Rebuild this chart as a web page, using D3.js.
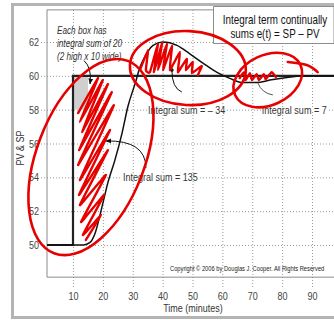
<!DOCTYPE html>
<html>
<head>
<meta charset="utf-8">
<script src="https://cdn.jsdelivr.net/npm/d3@7"></script>
<style>
  body { margin: 0; background: #fff; }
  svg { display: block; font-family: "Liberation Sans", Arial, sans-serif; }
</style>
</head>
<body>
<script>
// data
const xTicks = [10, 20, 30, 40, 50, 60, 70, 80, 90];
const yTicks = [50, 52, 54, 56, 58, 60, 62];

// set point: step from 50 to 60 at t = 10
const spTime = [1.3, 10, 10, 102];
const spValue = [50, 50, 60, 60];

// measured process variable
const pvTime = [1.3, 13.5, 15.7, 17.4, 19.7, 21.7, 24.0, 26.4, 28.4, 30.9, 32.4, 33.4, 36.8, 40.1, 44.8, 49.1, 53.5, 58.2, 62.5, 66.9, 71.5, 75.9, 81.6, 87, 95, 102];
const pvValue = [50, 50, 50.15, 50.7, 52.25, 53.7, 55.0, 56.6, 58.2, 59.6, 60.5, 60.9, 61.8, 62.0, 61.8, 61.3, 60.75, 60.2, 59.85, 59.6, 59.6, 59.75, 59.9, 60.0, 60.0, 60.0];

// grey "one box" (10 wide x 2 high, partly covered)
const boxTime = [10, 15];
const boxValue = [58, 60];

// text labels
const sumLabels = ["Integral sum = 135", "Integral sum =  \u2013 34", "Integral sum = 7"];
const sumTime = [26.7, 35.1, 73.2];
const sumValue = [54, 58, 58];

// hand drawn red marks, as [time, value]
const hatchA = [[11.7,57.8],[18.4,59.87],[12.3,57.27],[20.0,59.75],[13.0,56.68],[21.7,59.51],[12.0,55.61],[23.0,59.04],[11.7,54.73],[23.7,58.27],[12.3,53.84],[22.4,56.8],[12.0,52.96],[21.7,55.61],[12.3,52.36],[21.0,54.14],[12.7,51.36],[20.4,52.96],[13.3,50.59],[19.4,51.77],[14.3,50.3]];
const hatchB = [[32.4,60.34],[35.1,61.52],[34.4,60.34],[35.75,60.22],[38.4,61.88],[37.1,60.22],[39.8,61.94],[38.4,60.34],[41.4,61.88],[40.1,60.34],[43.1,61.76],[42.4,60.34],[45.8,61.41],[45.1,60.22],[48.1,61.0],[47.8,60.34],[50.1,60.82],[49.8,60.16],[53.1,60.58],[51.8,60.05]];
const hatchC = [[65.8,59.87],[67.2,60.22],[67.85,59.75],[69.2,60.16],[69.9,59.75],[71.5,60.1],[72.2,59.75],[73.9,60.1],[74.5,59.81],[76.5,60.22],[77.9,59.93]];
const circleCenters = [[16.0, 55.2], [48.45, 60.46], [75.2, 59.75]];
const tailMark = [[81.9,60.82],[88.25,60.64],[91.9,60.22]];

// black pointer arrows: start, control, end
const arrows = [
  [[13.7,60.9],[16.4,60.46],[15.7,59.52]],
  [[34.4,54.55],[34.4,56.2],[21.0,56.15]],
  [[46.45,59.04],[43.1,59.28],[43.1,60.34]],
  [[71.9,59.57],[73.2,58.98],[76.9,58.87]]
];

const width = 334, height = 320;

const x = d3.scaleLinear().domain([10, 90]).range([73, 312]);
const y = d3.scaleLinear().domain([50, 62]).range([245, 42]);

const plotLeft = x(1.3), plotTop = y(63.9), plotBottom = y(48.1);

// the original uses a narrow face; squeeze the regular one sideways round its anchor
const squeeze = 0.82;
function narrow(node, ax) {
  const old = node.getAttribute('transform') || '';
  if (old.includes('rotate')) {
    node.setAttribute('transform', `${old} scale(${squeeze},1)`);
  } else {
    node.setAttribute('transform', `${old} translate(${ax},0) scale(${squeeze},1) translate(${-ax},0)`);
  }
}

const svg = d3.select('body').append('svg')
  .attr('width', width)
  .attr('height', height);

// outer frame (its right side is off the picture)
svg.append('path')
  .attr('d', `M${width},4.5 H12.5 V317.5 H${width}`)
  .attr('fill', 'none')
  .attr('stroke', '#b4b4b4')
  .attr('stroke-width', 3);

const defs = svg.append('defs');
defs.append('clipPath').attr('id', 'plot')
  .append('rect')
  .attr('x', plotLeft).attr('y', plotTop)
  .attr('width', width - plotLeft).attr('height', plotBottom - plotTop);

defs.append('marker')
  .attr('id', 'head')
  .attr('viewBox', '0 0 10 10')
  .attr('refX', 9).attr('refY', 5)
  .attr('markerWidth', 6).attr('markerHeight', 6)
  .attr('orient', 'auto')
  .append('path')
  .attr('d', 'M0,1 L10,5 L0,9 z')
  .attr('fill', '#111');

//y axis with grid
const yAxis = svg.append('g')
  .attr('transform', `translate(41,0)`)
  .call(d3.axisLeft(y).tickValues(yTicks).tickSize(-(width - 41)).tickPadding(2));
yAxis.select('.domain').remove();
yAxis.selectAll('line').attr('stroke', '#9a9a9a').attr('stroke-dasharray', '1,2');
yAxis.selectAll('text').attr('fill', '#444').attr('font-size', 11)
  .each(function () { narrow(this, -2); });

//x axis with grid
const xAxis = svg.append('g')
  .attr('transform', `translate(0,287)`)
  .call(d3.axisBottom(x).tickValues(xTicks).tickSize(-(287 - plotTop)).tickPadding(5));
xAxis.select('.domain').remove();
xAxis.selectAll('line').attr('stroke', '#9a9a9a').attr('stroke-dasharray', '1,2');
xAxis.selectAll('text').attr('fill', '#444').attr('font-size', 11)
  .each(function () { narrow(this, 0); });

// plot border, open at the right where the picture is cut
svg.append('path')
  .attr('d', `M${width},${plotTop} H${plotLeft} V${plotBottom} H${width}`)
  .attr('fill', 'none')
  .attr('stroke', '#8c8c8c');

const plot = svg.append('g').attr('clip-path', 'url(#plot)');

plot.append('rect')
  .attr('x', x(boxTime[0]))
  .attr('y', y(boxValue[1]))
  .attr('width', x(boxTime[1]) - x(boxTime[0]))
  .attr('height', y(boxValue[0]) - y(boxValue[1]))
  .attr('fill', '#cfcfcf');

const line = d3.line().x(d => x(d[0])).y(d => y(d[1]));

plot.append('path')
  .datum(spTime.map((t, i) => [t, spValue[i]]))
  .attr('d', line)
  .attr('fill', 'none')
  .attr('stroke', '#222')
  .attr('stroke-width', 2.2);

plot.append('path')
  .datum(pvTime.map((t, i) => [t, pvValue[i]]))
  .attr('d', line.curve(d3.curveMonotoneX))
  .attr('fill', 'none')
  .attr('stroke', '#111')
  .attr('stroke-width', 1.5);

// text annotations with white backing
sumLabels.forEach((label, i) => {
  const g = svg.append('g');
  const t = g.append('text')
    .attr('x', x(sumTime[i]))
    .attr('y', y(sumValue[i]))
    .attr('dy', '0.35em')
    .attr('font-size', 11)
    .attr('fill', '#333')
    .text(label);
  const b = t.node().getBBox();
  g.insert('rect', 'text')
    .attr('x', b.x - 1).attr('y', y(sumValue[i]) - 2)
    .attr('width', b.width + 2).attr('height', 4)
    .attr('fill', '#fff');
  narrow(g.node(), x(sumTime[i]));
});

const note = svg.append('text')
  .attr('font-size', 10)
  .attr('font-style', 'italic')
  .attr('fill', '#333');
['Each box has', 'integral sum of 20', '(2 high x 10 wide)'].forEach((s, i) => {
  note.append('tspan').attr('x', 57).attr('y', 34 + i * 13).text(s);
});
narrow(note.node(), 57);

// arrows
const quad = d => `M${x(d[0][0])},${y(d[0][1])} Q${x(d[1][0])},${y(d[1][1])} ${x(d[2][0])},${y(d[2][1])}`;
svg.append('g')
  .selectAll('path')
  .data(arrows)
  .join('path')
  .attr('d', quad)
  .attr('fill', 'none')
  .attr('stroke', (d, i) => i === 3 ? '#555' : '#111')
  .attr('stroke-width', 1)
  .attr('marker-end', (d, i) => i < 2 ? 'url(#head)' : null);
svg.append('circle')
  .attr('cx', x(arrows[2][2][0])).attr('cy', y(arrows[2][2][1]))
  .attr('r', 1.8).attr('fill', '#111');

// title box, also running off the right edge
svg.append('path')
  .attr('d', `M${width},6.5 H213.5 V43.5 H${width} Z`)
  .attr('fill', '#fff')
  .attr('stroke', '#8c8c8c');
const title = svg.append('text')
  .attr('font-size', 12)
  .attr('fill', '#111')
  .attr('text-anchor', 'middle');
title.append('tspan').attr('x', 275).attr('y', 24).text('Integral term continually');
title.append('tspan').attr('x', 275).attr('y', 38.5).text('sums e(t) = SP \u2013 PV');
narrow(title.node(), 275);

const copy = svg.append('text')
  .attr('x', 170).attr('y', 271)
  .attr('font-size', 7)
  .attr('fill', '#222')
  .text('Copyright \u00a9 2006 by Douglas J. Cooper.  All Rights Reserved');
narrow(copy.node(), 170);

//axis titles
const xTitle = svg.append('text')
  .attr('x', 193).attr('y', 312)
  .attr('text-anchor', 'middle')
  .attr('font-size', 11)
  .attr('fill', '#333')
  .text('Time (minutes)');
narrow(xTitle.node(), 193);
const yTitle = svg.append('text')
  .attr('text-anchor', 'middle')
  .attr('transform', 'translate(24,148) rotate(-90)')
  .attr('font-size', 11)
  .attr('fill', '#333')
  .text('PV & SP');
narrow(yTitle.node(), 0);

// red marker scribbles
const red = '#e60000';
const marks = svg.append('g')
  .attr('fill', 'none')
  .attr('stroke', red)
  .attr('stroke-linecap', 'round')
  .attr('stroke-linejoin', 'round');

[hatchA, hatchB, hatchC].forEach(h => {
  marks.append('path')
    .datum(h)
    .attr('d', d3.line().x(d => x(d[0])).y(d => y(d[1])).curve(d3.curveCardinal.tension(0.6)))
    .attr('stroke-width', 2.4);
});

const ellipseSize = [[103, 54, -69], [58, 37, 3], [36, 25, -25]];
marks.selectAll('ellipse')
  .data(circleCenters)
  .join('ellipse')
  .attr('transform', (d, i) => `translate(${x(d[0])},${y(d[1])}) rotate(${ellipseSize[i][2]})`)
  .attr('rx', (d, i) => ellipseSize[i][0])
  .attr('ry', (d, i) => ellipseSize[i][1])
  .attr('stroke-width', 2.6);

marks.append('path')
  .datum(tailMark)
  .attr('d', d3.line().x(d => x(d[0])).y(d => y(d[1])).curve(d3.curveNatural))
  .attr('stroke-width', 2.6);
</script>
</body>
</html>
